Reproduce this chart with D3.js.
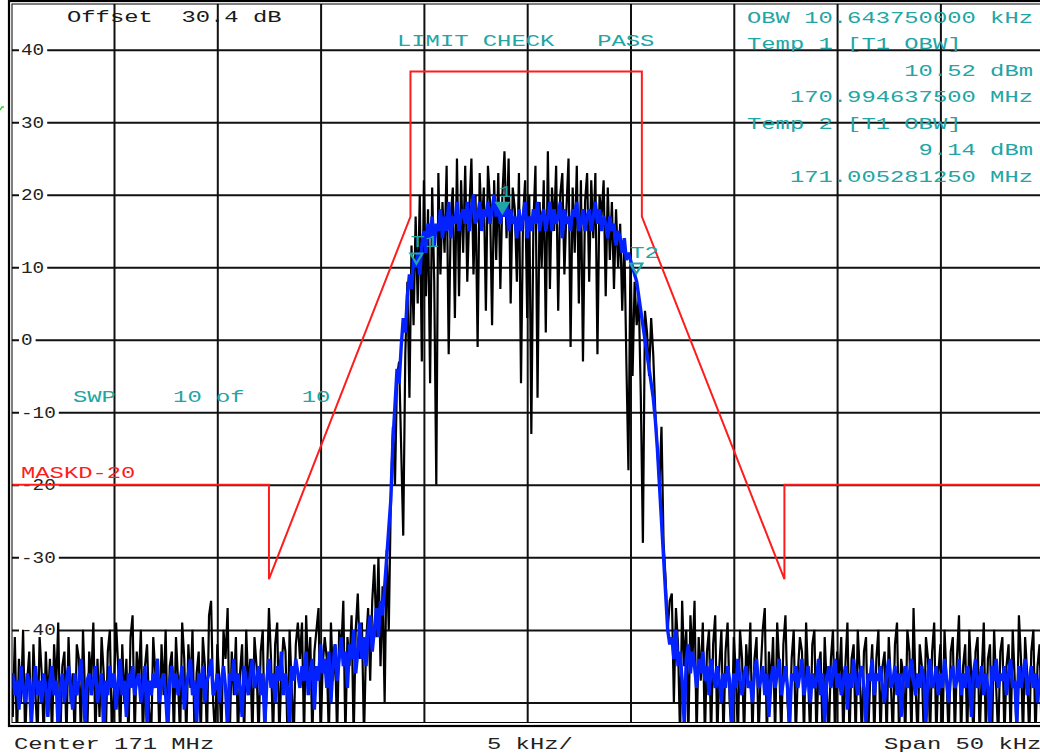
<!DOCTYPE html>
<html>
<head>
<meta charset="utf-8">
<script src="https://cdn.jsdelivr.net/npm/d3@7"></script>
<style>
  html, body { margin: 0; padding: 0; background: #fff; }
  svg { display: block; }
  text { font-family: "Liberation Mono", "DejaVu Sans Mono", monospace; }
</style>
</head>
<body>
<svg id="chart" width="1040" height="755"></svg>
<script>
// ---- sweep settings ----
const centerMHz = 171;
const spanKHz = 50;
const sweepPoints = 501;

// ---- grid / tick labels ----
const levelTicks = [40, 30, 20, 10, 0, -10, -20, -30, -40, -50];
const levelTickLabels = ["40", "30", "20", "10", "0", "-10", "-20", "-30", "-40"];
const freqTicks = [-20, -15, -10, -5, 0, 5, 10, 15, 20];

// ---- limit line MASKD-20 (offset kHz / dB) ----
const maskFreq  = [-25, -12.5, -12.5, -5.65, -5.65, 5.55, 5.55, 12.45, 12.45, 25];
const maskLevel = [-20, -20, -33, 17, 37, 37, 17, -33, -20, -20];

// ---- trace 1 (clear write, black), dB per sweep point ----
const trace1 = [
  -45,-52,-41,-55,-44,-50,-40,-55,-47,-43,-55,-42,-49,-55,-41,-46,-55,-43,-50,-44,
  -55,-42,-48,-39,-55,-45,-43,-55,-41,-50,-46,-55,-42,-44,-55,-40,-49,-55,-43,-47,
  -39,-55,-44,-52,-41,-46,-55,-43,-40,-55,-48,-39,-45,-55,-42,-50,-44,-55,-41,-38,
  -55,-43,-47,-40,-55,-45,-42,-51,-55,-41,-46,-44,-55,-42,-49,-40,-55,-45,-43,-55,
  -41,-47,-55,-39,-44,-55,-42,-48,-40,-55,-46,-43,-55,-41,-45,-55,-38,-36,-50,-55,
  -42,-47,-55,-40,-44,-37,-55,-43,-49,-41,-55,-46,-42,-55,-40,-48,-44,-55,-41,-45,
  -55,-43,-40,-55,-47,-37,-44,-55,-42,-39,-55,-46,-41,-43,-55,-40,-48,-55,-42,-39,
  -44,-39,-55,-38,-46,-41,-55,-43,-40,-37,-55,-45,-41,-44,-55,-39,-47,-42,-55,-40,
  -43,-36,-55,-41,-45,-38,-55,-40,-35,-44,-39,-55,-42,-37,-47,-36,-31,-41,-30,-45,
  -34,-50,-29,-40,-22,-12,-20,-5,-3,-15,-27,-2,8,-8,13,2,17,5,20,-3,
  22,6,18,-6,21,8,-20,23,9,19,12,24,-2,17,21,3,25,6,22,12,
  24,8,18,25,9,20,-1,23,15,21,4,24,19,2,22,11,23,7,20,26,
  14,25,5,21,18,8,23,-6,17,22,3,20,-13,16,24,-8,19,10,22,1,
  26,7,21,15,24,4,20,23,9,18,25,-1,21,12,24,5,22,-3,19,23,
  8,22,14,23,-2,20,17,22,6,21,11,19,7,18,10,16,4,14,-3,-18,
  12,-5,8,2,6,-8,-28,4,1,-5,3,-2,-10,-15,-20,-12,-28,-33,-40,-36,
  -35,-50,-37,-42,-55,-36,-45,-40,-55,-38,-44,-36,-55,-41,-47,-39,-55,-43,-40,-55,
  -42,-38,-55,-45,-40,-55,-43,-39,-50,-55,-41,-46,-55,-40,-44,-55,-42,-47,-39,-55,
  -44,-41,-55,-46,-40,-37,-55,-43,-48,-41,-55,-39,-45,-55,-42,-38,-50,-55,-44,-40,
  -55,-46,-41,-43,-55,-39,-47,-55,-42,-40,-55,-45,-43,-55,-41,-48,-55,-44,-40,-55,
  -43,-47,-41,-55,-45,-39,-55,-44,-42,-55,-40,-46,-55,-43,-41,-55,-47,-42,-55,-44,
  -40,-55,-45,-43,-55,-41,-47,-55,-42,-39,-55,-44,-46,-55,-40,-43,-55,-37,-48,-55,
  -42,-45,-55,-41,-44,-55,-43,-39,-55,-46,-42,-55,-40,-47,-55,-43,-41,-55,-44,-38,
  -55,-45,-42,-55,-40,-47,-55,-43,-41,-55,-46,-39,-55,-44,-42,-55,-40,-48,-55,-43,
  -41,-55,-45,-42,-55,-40,-47,-55,-38,-44,-55,-41,-46,-55,-43,-40,-55,-45,-42,-55,-44
];

// ---- trace 2 (average, blue), dB per sweep point ----
const trace2 = [
  -48,-46,-49,-47,-51,-45,-48,-50,-46,-47,-53,-48,-45,-49,-47,-50,-46,-48,-52,-47,
  -45,-49,-47,-54,-48,-46,-50,-47,-45,-48,-51,-46,-49,-47,-44,-48,-53,-47,-46,-49,
  -47,-45,-50,-48,-46,-54,-47,-49,-45,-48,-46,-51,-47,-44,-49,-47,-52,-46,-48,-45,
  -49,-47,-46,-50,-48,-45,-53,-47,-49,-46,-48,-44,-50,-47,-46,-49,-54,-47,-45,-48,
  -46,-49,-47,-45,-51,-48,-46,-44,-49,-47,-53,-46,-48,-45,-50,-47,-46,-44,-49,-48,
  -46,-50,-47,-45,-48,-54,-46,-47,-44,-49,-46,-48,-52,-45,-47,-49,-46,-44,-48,-47,
  -45,-49,-46,-53,-47,-44,-48,-46,-50,-45,-47,-43,-49,-46,-48,-54,-45,-47,-44,-46,
  -48,-45,-47,-43,-49,-46,-44,-51,-45,-47,-42,-46,-44,-48,-43,-50,-45,-42,-47,-44,
  -41,-45,-43,-48,-42,-44,-40,-46,-43,-39,-44,-41,-45,-40,-38,-43,-40,-37,-41,-36,
  -38,-34,-30,-26,-22,-14,-9,-4,-6,-1,3,1,6,9,7,11,10,12,9,13,
  15,12,16,14,17,13,16,15,18,14,17,15,19,14,17,16,19,15,17,18,
  16,19,15,18,20,16,17,19,15,18,17,19,16,18,20,17,19,16,18,17,
  19,15,18,16,17,14,18,15,17,19,14,17,15,18,16,19,15,17,18,15,
  17,19,15,18,16,17,19,14,18,16,17,15,18,17,19,15,16,18,15,17,
  18,15,17,19,16,18,15,17,16,14,17,15,16,13,15,14,12,14,11,12,
  11,10,9,8,6,4,2,0,-2,-4,-6,-8,-11,-15,-20,-25,-30,-35,-40,-42,
  -41,-44,-40,-45,-43,-47,-53,-44,-42,-46,-43,-45,-48,-44,-46,-43,-47,-45,-49,-44,
  -46,-48,-45,-47,-50,-46,-48,-45,-47,-53,-46,-48,-44,-47,-49,-46,-45,-48,-47,-50,
  -46,-44,-48,-47,-45,-49,-46,-52,-47,-45,-48,-46,-44,-49,-47,-45,-48,-53,-46,-47,
  -45,-48,-46,-44,-49,-47,-45,-50,-46,-48,-47,-44,-49,-46,-53,-47,-45,-48,-46,-44,
  -48,-46,-49,-47,-45,-51,-46,-48,-44,-47,-49,-46,-45,-48,-53,-46,-47,-44,-49,-46,
  -47,-45,-48,-50,-46,-44,-48,-47,-45,-49,-46,-52,-47,-45,-48,-46,-44,-47,-49,-46,
  -48,-45,-47,-53,-46,-44,-48,-47,-45,-49,-46,-48,-44,-47,-50,-46,-45,-48,-47,-44,
  -49,-46,-48,-45,-47,-52,-46,-44,-48,-47,-45,-49,-46,-48,-53,-45,-47,-44,-48,-46,
  -47,-45,-49,-46,-44,-48,-47,-53,-45,-48,-46,-44,-49,-47,-45,-48,-46,-50,-47,-45,-48
];

// ---- markers (offset kHz / dB) ----
const markerNames  = ["T1", "1", "T2"];
const markerFreq   = [-5.3625, -1.2, 5.28125];
const markerLevel  = [10.52, 17.5, 9.14];
const markerFilled = [false, true, false];

// ---- readout texts ----
const headerText = "Offset  30.4 dB";
const limitText = "LIMIT CHECK   PASS";
const sweepText = "SWP    10 of    10";
const maskName = "MASKD-20";
const obwLines = [
  { t: "OBW 10.643750000 kHz", align: "left" },
  { t: "Temp 1 [T1 OBW]", align: "left" },
  { t: "10.52 dBm", align: "right" },
  { t: "170.994637500 MHz", align: "right" },
  { t: "Temp 2 [T1 OBW]", align: "left" },
  { t: "9.14 dBm", align: "right" },
  { t: "171.005281250 MHz", align: "right" }
];
const footerLeft = "Center 171 MHz";
const footerMid = "5 kHz/";
const footerRight = "Span 50 kHz";

// ---- layout ----
const plot = { left: 12, top: 4, right: 1040, bottom: 722 };
const CHAR = 14.3;          // monospaced character pitch
const teal = "#22a5a5";
const red = "#ff1c1c";

const svg = d3.select("#chart");

const x = d3.scaleLinear().domain([-spanKHz / 2, spanKHz / 2]).range([10.7, 1043.7]);
const y = d3.scaleLinear().domain([-52.7, 46.3]).range([plot.bottom, plot.top]);
const freqOf = i => -spanKHz / 2 + i * spanKHz / (sweepPoints - 1);

function monoText(g, str, px, py, color, pitch, size) {
  return g.append("text")
    .attr("x", px).attr("y", py)
    .attr("fill", color)
    .attr("font-size", size || 17)
    .attr("textLength", str.length * (pitch || CHAR))
    .attr("lengthAdjust", "spacingAndGlyphs")
    .style("white-space", "pre")
    .text(str);
}

// clip for the trace area
svg.append("defs").append("clipPath").attr("id", "plotClip")
  .append("rect")
  .attr("x", plot.left).attr("y", plot.top)
  .attr("width", plot.right - plot.left).attr("height", plot.bottom - plot.top);

// ---- grid from axes ----
const gridY = svg.append("g").attr("transform", `translate(${plot.left},0)`)
  .call(d3.axisLeft(y).tickValues(levelTicks).tickSize(-(plot.right - plot.left)).tickFormat(""));
gridY.select(".domain").remove();
gridY.selectAll("line").attr("stroke", "#111").attr("stroke-width", 2);

const gridX = svg.append("g").attr("transform", `translate(0,${plot.top})`)
  .call(d3.axisTop(x).tickValues(freqTicks).tickSize(-(plot.bottom - plot.top)).tickFormat(""));
gridX.select(".domain").remove();
gridX.selectAll("line").attr("stroke", "#111").attr("stroke-width", 2);

// ---- level labels inside the grid ----
const lbl = svg.append("g");
levelTickLabels.forEach(s => {
  const v = +s;
  const w = s.length * 11.6;
  lbl.append("rect").attr("x", 19).attr("y", y(v) - 8).attr("width", w + 5).attr("height", 16).attr("fill", "#fff");
  monoText(lbl, s, 21, y(v) + 5.5, "#222", 11.6, 16);
});

// ---- traces ----
const line = d3.line().x((d, i) => x(freqOf(i))).y(d => y(d));
const traces = svg.append("g").attr("clip-path", "url(#plotClip)");
traces.append("path").datum(trace1).attr("d", line)
  .attr("fill", "none").attr("stroke", "#000").attr("stroke-width", 2.2).attr("stroke-linejoin", "bevel");
traces.append("path").datum(trace2).attr("d", line)
  .attr("fill", "none").attr("stroke", "#0422ff").attr("stroke-width", 3.4).attr("stroke-linejoin", "bevel");

// ---- limit line ----
const maskLine = d3.line().x(d => x(d[0])).y(d => y(d[1]));
svg.append("g").attr("clip-path", "url(#plotClip)")
  .append("path").datum(maskFreq.map((f, i) => [f, maskLevel[i]]))
  .attr("d", maskLine).attr("fill", "none").attr("stroke", red).attr("stroke-width", 2);
monoText(svg, maskName, 21, 478, red);

// ---- markers ----
const mk = svg.append("g");
markerNames.forEach((name, i) => {
  const mx = x(markerFreq[i]), my = y(markerLevel[i]);
  mk.append("path")
    .attr("d", `M${mx - 6},${my - 10}L${mx + 6},${my - 10}L${mx},${my}Z`)
    .attr("fill", markerFilled[i] ? teal : "none")
    .attr("stroke", teal).attr("stroke-width", 2.2).attr("stroke-linejoin", "miter");
  const lx = name.length === 2 ? mx - 6 : mx - 4;
  monoText(mk, name, lx, my - 16, teal);
});

// ---- frame ----
const frame = svg.append("g").attr("fill", "none").attr("stroke", "#000");
frame.append("rect").attr("x", 9).attr("y", 1).attr("width", 1040).attr("height", 725).attr("stroke-width", 2.2);
frame.append("rect").attr("x", plot.left).attr("y", plot.top)
  .attr("width", 1040).attr("height", plot.bottom - plot.top + 0.5).attr("stroke-width", 1);

// small trigger indicator at the left edge
svg.append("path").attr("d", "M0,110 L2,107 L4,107").attr("fill", "none")
  .attr("stroke", "#2bd42b").attr("stroke-width", 1.4);

// ---- readouts ----
monoText(svg, headerText, 67, 22, "#1a1a1a");
monoText(svg, limitText, 397, 45.5, teal);
monoText(svg, sweepText, 73, 402, teal);

const obwLeft = 747, obwRight = 1033;
const obwBase = [22.5, 49, 75.5, 102, 128.5, 155, 181.5];
obwLines.forEach((l, i) => {
  const px = l.align === "left" ? obwLeft : obwRight - l.t.length * CHAR;
  monoText(svg, l.t, px, obwBase[i], teal);
});

monoText(svg, footerLeft, 14, 749, "#222");
monoText(svg, footerMid, 487, 749, "#222");
monoText(svg, footerRight, 884, 749, "#222");
</script>
</body>
</html>
